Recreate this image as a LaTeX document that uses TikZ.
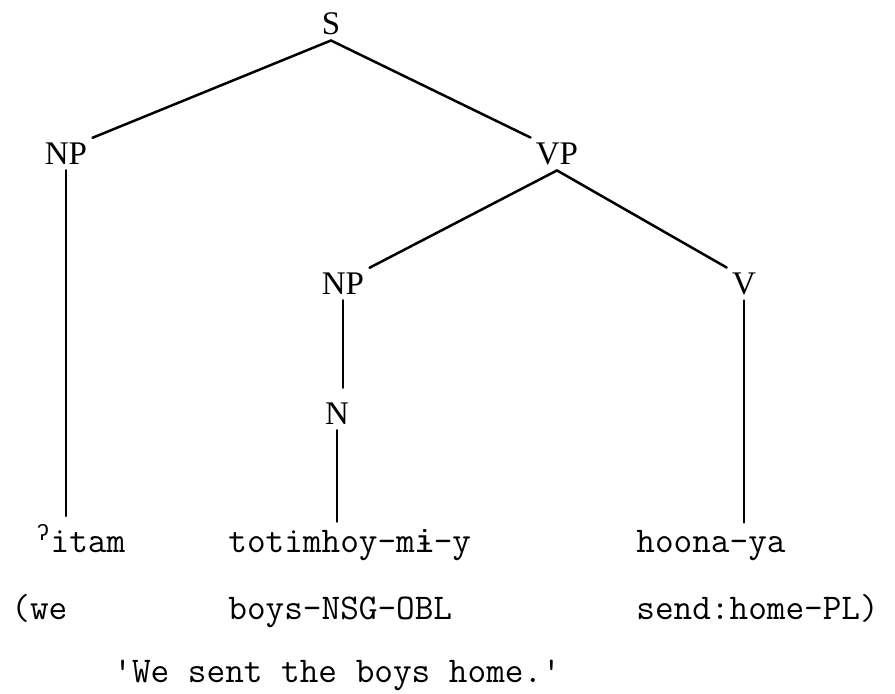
\documentclass[tikz,border=0pt]{standalone}
\usepackage{fontspec}
\usepackage{tikz}
\usetikzlibrary{calc}
\setmainfont{Liberation Serif}
\newfontfamily\ipafont{Liberation Mono}[Scale=0.875]

\begin{document}
\begin{tikzpicture}[x=0.5pt,y=-0.5pt,
    cat/.style={font=\fontsize{16.5}{19}\selectfont, inner sep=2.5pt},
    word/.style={font=\ttfamily\fontsize{18.1}{21}\selectfont, anchor=base west, inner sep=0pt},
    branch/.style={line width=1.25pt, black, line cap=round}]
    % Page
    \useasboundingbox (0,0) rectangle (895,694);

    % Category labels
    \node[cat] (s) at (331,24) {S};
    \node[cat] (np1) at (66,154) {NP};
    \node[cat] (vp) at (557,154) {VP};
    \node[cat] (np2) at (343,284) {NP};
    \node[cat] (v) at (744,284) {V};
    \node[cat] (n) at (337,414) {N};

    % Words
    \node[word] (w1) at (36,553) {\textsuperscript{\ipafont ʔ}itam};
    \node[word] (w2) at (228,553) {totimhoy-m{\ipafont ɨ}-y};
    \node[word] (w3) at (636,553) {hoona-ya};

    % Glosses
    \node[word] (g1) at (11,620) {(we};
    \node[word] (g2) at (228,620) {boys-NSG-OBL};
    \node[word] (g3) at (636,620) {send:home-PL)};

    % Free translation
    \node[word] (tr) at (113,683) {'We sent the boys home.'};

    % Branches
    \draw[branch] (s.south) -- (np1.north east);
    \draw[branch] (s.south) -- (vp.north west);
    \draw[branch] (vp.south) -- (np2.north east);
    \draw[branch] (vp.south) -- (v.north west);
    \draw[branch, shorten >=5pt] (np2.south) -- (np2.south |- n.north);
    \draw[branch, shorten >=4pt] (np1.south) -- (np1.south |- w1.north);
    \draw[branch, shorten >=4pt] (n.south) -- (n.south |- w2.north);
    \draw[branch, shorten >=4pt] (v.south) -- (v.south |- w3.north);
\end{tikzpicture}
\end{document}
